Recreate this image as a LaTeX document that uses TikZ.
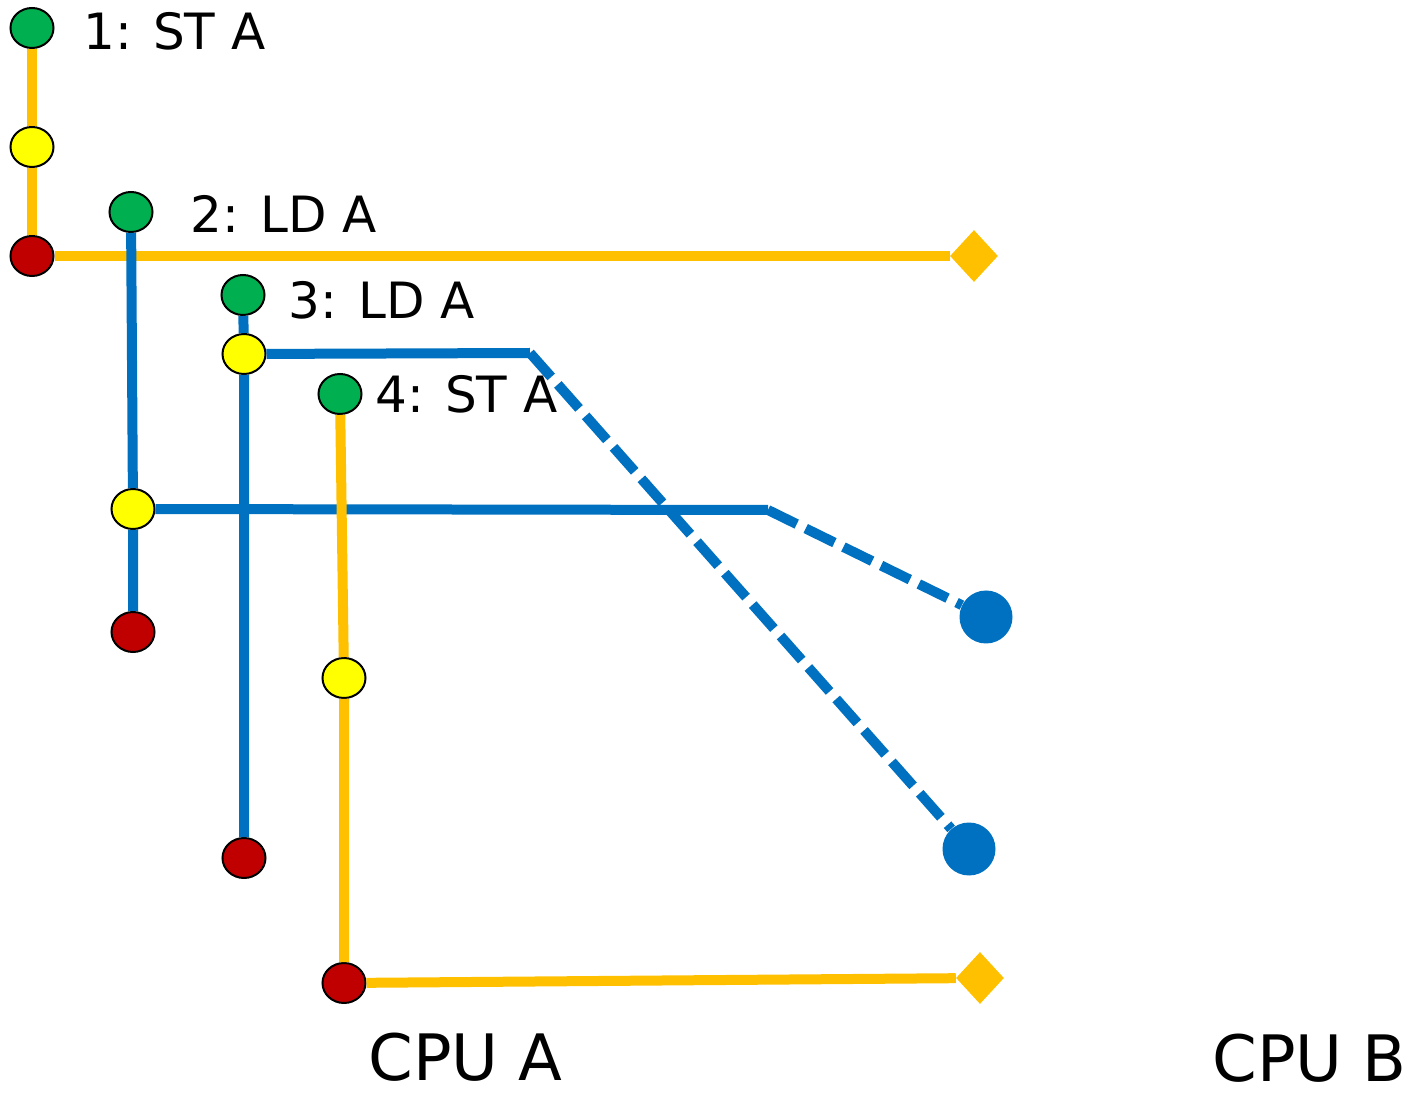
\documentclass[tikz,border=0pt]{standalone}
\usepackage{fontspec}
\setmainfont{DejaVu Sans}
\usetikzlibrary{shapes.geometric, positioning}

\begin{document}
\begin{tikzpicture}[x=0.5pt, y=-0.5pt,
    every node/.style={inner sep=0pt},
    stage/.style={ellipse, draw=black, line width=1pt, minimum width=21.5pt, minimum height=20pt},
    issue/.style={stage, fill=issuecol},
    perform/.style={stage, fill=performcol},
    retire/.style={stage, fill=retirecol},
    memsink/.style={diamond, fill=stcol, minimum width=24pt, minimum height=26pt},
    ldsrc/.style={circle, fill=ldcol, minimum size=26.5pt},
    stline/.style={stcol, line width=5pt},
    ldline/.style={ldcol, line width=5pt},
    lddash/.style={ldline, dash pattern=on 16pt off 5pt},
    instr/.style={anchor=base west, font=\fontsize{25}{30}\selectfont},
    cpu/.style={anchor=base west, font=\fontsize{32}{38}\selectfont}]

% --- COLOURS ---
\definecolor{stcol}{RGB}{255, 192, 0}      % stores
\definecolor{ldcol}{RGB}{0, 112, 192}      % loads
\definecolor{issuecol}{RGB}{0, 176, 80}
\definecolor{performcol}{RGB}{255, 255, 0}
\definecolor{retirecol}{RGB}{192, 0, 0}

\useasboundingbox (0,0) rectangle (1410,1096);

% --- 1: ST A ---
\node[issue]   (start1) at (32,28) {};
\node[perform] (mid1)   at (32,147) {};
\node[retire]  (end1)   at (32,256) {};
\node[memsink] (out1)   at (974,256) {};
\node[instr]   (lab1)   at (83,50) {1: ST A};
\draw[stline] (start1) -- (mid1) -- (end1) -- (out1);

% --- 2: LD A ---
\node[issue]   (start2) at (131,212) {};
\node[perform] (mid2)   at (133,509) {};
\node[retire]  (end2)   at (133,632) {};
\coordinate    (bend2)  at (768,510);
\node[ldsrc]   (dot2)   at (986,617) {};
\node[instr]   (lab2)   at (190,233) {2: LD A};
\draw[ldline] (start2) -- (mid2) -- (end2);
\draw[ldline] (mid2) -- (bend2);
\draw[lddash] (bend2) -- (dot2);

% --- 3: LD A ---
\node[issue]   (start3) at (243,295) {};
\node[perform] (mid3)   at (244,354) {};
\node[retire]  (end3)   at (244,858) {};
\coordinate    (bend3)  at (530,353);
\node[ldsrc]   (dot3)   at (969,849) {};
\node[instr]   (lab3)   at (288,319) {3: LD A};
\draw[ldline] (start3) -- (mid3) -- (end3);
\draw[ldline] (mid3) -- (bend3);
\draw[lddash] (bend3) -- (dot3);

% --- 4: ST A ---
\node[issue]   (start4) at (340,394) {};
\node[perform] (mid4)   at (344,678) {};
\node[retire]  (end4)   at (344,983) {};
\node[memsink] (out4)   at (980,978) {};
\node[instr]   (lab4)   at (375,413) {4: ST A};
\draw[stline] (start4) -- (mid4) -- (end4) -- (out4);

% --- CPUs ---
\node[cpu] (cpua) at (368,1080) {CPU A};
\node[cpu] (cpub) at (1212,1081) {CPU B};

\end{tikzpicture}
\end{document}
